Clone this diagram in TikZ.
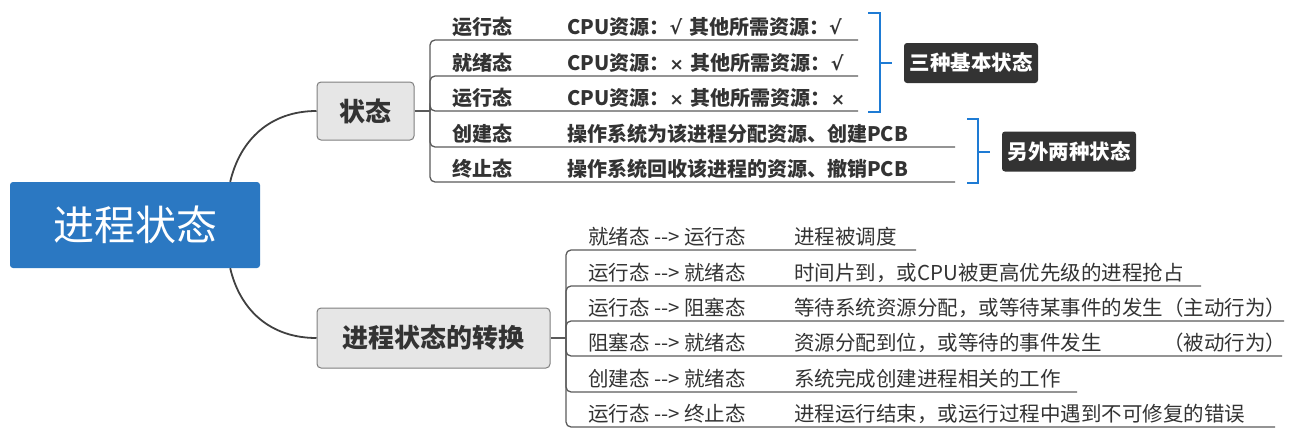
\documentclass[tikz,border=0pt]{standalone}
\usepackage{fontspec}
\newfontfamily\cjk{Noto Sans CJK SC}
\newfontfamily\symf{DejaVu Sans}
\newcommand\yes{{\symf\bfseries\fontsize{19}{22}\selectfont √}}
\newcommand\no{{\symf\bfseries\fontsize{17}{20}\selectfont ×}}
\definecolor{rootblue}{HTML}{2B78C2}
\definecolor{topicfill}{HTML}{E6E6E6}
\definecolor{topicborder}{HTML}{7F7F7F}
\definecolor{tagdark}{HTML}{333333}
\definecolor{textgray}{HTML}{333333}
\definecolor{linegray}{HTML}{5A5A5A}
\definecolor{curvegray}{HTML}{404040}
\definecolor{braceblue}{HTML}{1E7BD4}
\begin{document}
\begin{tikzpicture}[x=1pt,y=-1pt,
  every node/.style={inner sep=0pt},
  link/.style={draw=linegray, line width=1.3pt},
  branch/.style={draw=curvegray, line width=1.8pt},
  rootbox/.style={fill=rootblue, rounded corners=3pt, minimum width=250pt,
    minimum height=86pt, text=white, font=\cjk\fontsize{41}{48}\selectfont},
  topic/.style={fill=topicfill, draw=topicborder, line width=1pt,
    rounded corners=4pt, text=textgray, font=\cjk\fontsize{26}{30}\selectfont\bfseries},
  tag/.style={fill=tagdark, rounded corners=3pt, minimum width=134pt,
    minimum height=40pt, text=white, font=\cjk\fontsize{20.5}{24}\selectfont\bfseries},
  item/.style={anchor=base west, text=textgray, font=\cjk\fontsize{20}{24}\selectfont\bfseries},
  trans/.style={anchor=base west, text=textgray, font=\cjk\fontsize{20.5}{24}\selectfont},
  bracket/.style={draw=braceblue, line width=2pt},
]
\useasboundingbox (0,0) rectangle (1314,447);

% central topic and its two main branches
\node[rootbox] (root) at (135,225) {进程状态};
\node[topic, minimum width=97pt, minimum height=58pt] (st) at (365.5,111) {状态};
\node[topic, minimum width=233pt, minimum height=60pt] (tr) at (433.5,338) {进程状态的转换};

\draw[branch] ([xshift=-30pt]root.north east) .. controls (240,140) and (270,111) .. (st.west);
\draw[branch] ([xshift=-30pt]root.south east) .. controls (240,310) and (270,338) .. (tr.west);

% ---- states ----
\coordinate (b1) at (430,111);
\draw[link] (st.east) -- (b1);
\foreach \i/\uy/\ex in {1/40/858, 2/76/858, 3/111/858, 4/147/955, 5/182/955}{
  \coordinate (se\i) at (\ex,\uy);
  \draw[link, rounded corners=5pt] (b1) |- (se\i);
}
\node[item] (s1a) at (452,34) {运行态};
\node[item] (s1b) at (567,34) {CPU资源：\yes\hspace{7pt}其他所需资源：\yes};
\node[item] (s2a) at (452,70) {就绪态};
\node[item] (s2b) at (567,70) {CPU资源：\no\hspace{7pt}其他所需资源：\yes};
\node[item] (s3a) at (452,105) {运行态};
\node[item] (s3b) at (567,105) {CPU资源：\no\hspace{7pt}其他所需资源：\no};
\node[item] (s4a) at (452,141) {创建态};
\node[item] (s4b) at (567,141) {操作系统为该进程分配资源、创建PCB};
\node[item] (s5a) at (452,176) {终止态};
\node[item] (s5b) at (567,176) {操作系统回收该进程的资源、撤销PCB};

% summary brackets
\node[tag] (k1) at (971,63) {三种基本状态};
\node[tag] (k2) at (1069,151.5) {另外两种状态};
\draw[bracket] (868,13) -- (880,13) -- (880,112) -- (868,112);
\draw[bracket] (880,63) -- ([xshift=-12pt]k1.west);
\draw[bracket] (967,119) -- (978,119) -- (978,183) -- (967,183);
\draw[bracket] (978,151.5) -- ([xshift=-12pt]k2.west);

% ---- transitions ----
\coordinate (b2) at (566,338);
\draw[link] (tr.east) -- (b2);
\foreach \i/\uy/\ex in {1/250/916, 2/286/1201, 3/321/1284, 4/356/1282, 5/392/1077, 6/427/1275}{
  \coordinate (te\i) at (\ex,\uy);
  \draw[link, rounded corners=5pt] (b2) |- (te\i);
}
\node[trans] (t1a) at (588,244) {就绪态 -\kern0pt-> 运行态};
\node[trans] (t1b) at (794,244) {进程被调度};
\node[trans] (t2a) at (588,280) {运行态 -\kern0pt-> 就绪态};
\node[trans] (t2b) at (794,280) {时间片到，或CPU被更高优先级的进程抢占};
\node[trans] (t3a) at (588,315) {运行态 -\kern0pt-> 阻塞态};
\node[trans] (t3b) at (794,315) {等待系统资源分配，或等待某事件的发生（主动行为）};
\node[trans] (t4a) at (588,350) {阻塞态 -\kern0pt-> 就绪态};
\node[trans] (t4b) at (794,350) {\rlap{资源分配到位，或等待的事件发生}\phantom{等待系统资源分配，或等待某事件的发生}（被动行为）};
\node[trans] (t5a) at (588,386) {创建态 -\kern0pt-> 就绪态};
\node[trans] (t5b) at (794,386) {系统完成创建进程相关的工作};
\node[trans] (t6a) at (588,421) {运行态 -\kern0pt-> 终止态};
\node[trans] (t6b) at (794,421) {进程运行结束，或运行过程中遇到不可修复的错误};
\end{tikzpicture}
\end{document}
